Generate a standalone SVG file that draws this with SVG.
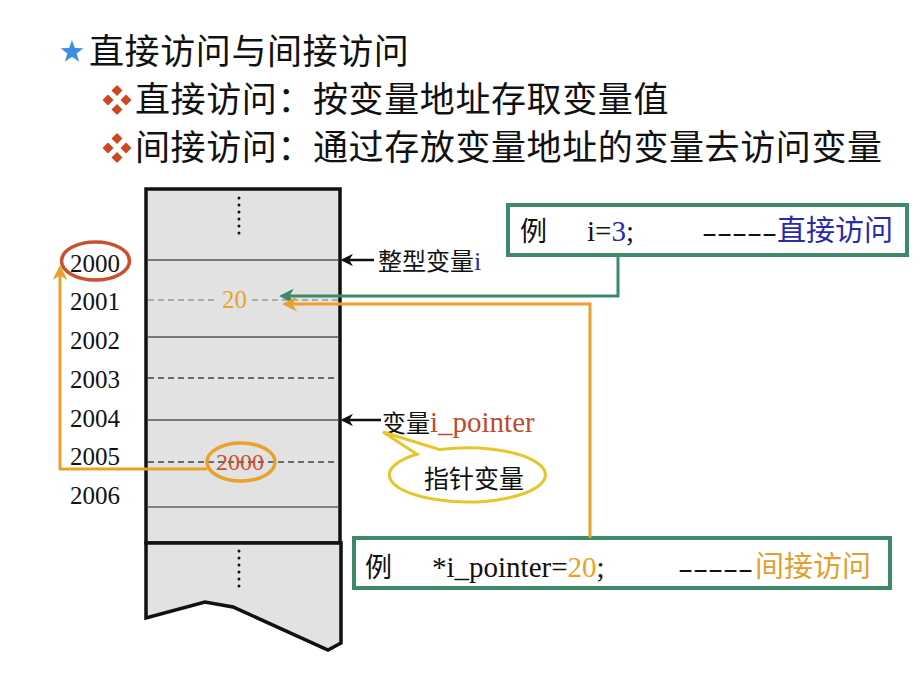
<svg xmlns="http://www.w3.org/2000/svg" width="920" height="690" viewBox="0 0 920 690">
<defs>
<style>
.cjk{font-family:"Noto Sans CJK SC","Noto Sans",sans-serif;}
.ser{font-family:"Liberation Serif","Noto Sans CJK SC",serif;}
.head{font-size:35px;fill:#111;letter-spacing:0.6px;}
.addr{font-size:25px;fill:#111;}
.solid{stroke:#555;stroke-width:1.5;}
.dash{stroke:#444;stroke-width:1.3;stroke-dasharray:6 4;}
.dot{stroke:#111;stroke-width:3;stroke-linecap:round;stroke-dasharray:0 7;}
.box{fill:#fff;stroke:#3e8a68;stroke-width:4;}
.grn{fill:none;stroke:#3e8a68;stroke-width:3;}
.org{fill:none;stroke:#e8a22a;stroke-width:3;}
.blk{fill:none;stroke:#111;stroke-width:2.5;}
.dia{fill:#d0461e;}
</style>
<marker id="mg" viewBox="0 0 10 10" refX="8" refY="5" markerWidth="5" markerHeight="5" orient="auto"><path d="M10,5 L0,0 L3,5 L0,10 Z" fill="#3e8a68"/></marker>
<marker id="mo" viewBox="0 0 10 10" refX="8" refY="5" markerWidth="5" markerHeight="5" orient="auto"><path d="M10,5 L0,0 L3,5 L0,10 Z" fill="#e8a22a"/></marker>
<marker id="mb" viewBox="0 0 10 10" refX="8" refY="5" markerWidth="5" markerHeight="5" orient="auto"><path d="M10,5 L0,0 L3,5 L0,10 Z" fill="#111"/></marker>
</defs>
<rect width="920" height="690" fill="#fff"/>

<g id="heading">
<polygon points="72,40 74.8,48.1 83.4,48.3 76.6,53.5 79.1,61.7 72,56.8 64.9,61.7 67.4,53.5 60.6,48.3 69.2,48.1" fill="#3b8ee8"/>
<text class="cjk head" x="89" y="64">直接访问与间接访问</text>
<g class="dia">
<polygon points="117,85 122.5,90.5 117,96 111.5,90.5"/>
<polygon points="108,94.5 113.5,100 108,105.5 102.5,100"/>
<polygon points="126,94.5 131.5,100 126,105.5 120.5,100"/>
<polygon points="117,104 122.5,109.5 117,115 111.5,109.5"/>
</g>
<text class="cjk head" x="135" y="112">直接访问：按变量地址存取变量值</text>
<g class="dia">
<polygon points="117,133 122.5,138.5 117,144 111.5,138.5"/>
<polygon points="108,142.5 113.5,148 108,153.5 102.5,148"/>
<polygon points="126,142.5 131.5,148 126,153.5 120.5,148"/>
<polygon points="117,152 122.5,157.5 117,163 111.5,157.5"/>
</g>
<text class="cjk head" x="135" y="160">间接访问：通过存放变量地址的变量去访问变量</text>
</g>

<g id="memory">
<rect x="146" y="189" width="194" height="354" fill="#e2e2e2" stroke="#111" stroke-width="3.5"/>
<polygon points="146,543 146,618 205,602 233,607 328,650 341,643 341,543" fill="#e2e2e2" stroke="#111" stroke-width="3.5"/>
<line class="dot" x1="239" y1="198" x2="239" y2="238"/>
<line class="dot" x1="239" y1="551" x2="239" y2="590"/>
<line class="solid" x1="148" y1="260" x2="338" y2="260"/>
<line x1="148" y1="300" x2="214" y2="300" stroke="#999" stroke-width="1.3" stroke-dasharray="6 4"/>
<line x1="252" y1="300" x2="338" y2="300" stroke="#999" stroke-width="1.3" stroke-dasharray="6 4"/>
<line class="solid" x1="148" y1="337" x2="338" y2="337"/>
<line class="dash" x1="148" y1="378" x2="338" y2="378"/>
<line class="solid" x1="148" y1="420" x2="338" y2="420"/>
<line class="dash" x1="148" y1="462" x2="338" y2="462"/>
<line x1="148" y1="507" x2="338" y2="507" stroke="#222" stroke-width="1.2"/>
<text class="ser" x="222" y="308" font-size="25" fill="#e8a22a">20</text>
<ellipse cx="241" cy="462" rx="34" ry="19" fill="none" stroke="#e8a22a" stroke-width="3.5"/>
<text class="ser" x="216" y="470" font-size="24" fill="#c8502e">2000</text>
</g>

<g id="addresses" class="ser addr">
<text x="70" y="272">2000</text>
<text x="70" y="310">2001</text>
<text x="70" y="349">2002</text>
<text x="70" y="388">2003</text>
<text x="70" y="427">2004</text>
<text x="70" y="465">2005</text>
<text x="70" y="504">2006</text>
</g>
<ellipse id="addr-mark" cx="95.5" cy="261" rx="34" ry="19" fill="none" stroke="#c8502e" stroke-width="3.5"/>

<g id="label-i">
<text x="378" y="270" font-size="24"><tspan class="cjk" fill="#111">整型变量</tspan><tspan class="ser" fill="#2a2aa8" font-size="26">i</tspan></text>
</g>
<g id="label-pointer">
<text x="382" y="432" font-size="24"><tspan class="cjk" fill="#111">变量</tspan><tspan class="ser" fill="#c04a30" font-size="29">i_pointer</tspan></text>
</g>
<g id="callout">
<path d="M440,449.6 A78,27 0 1 1 416.9,454.3 L383,432 Z" fill="#fff" stroke="#e6c62a" stroke-width="3"/>
<text class="cjk" x="474" y="488" font-size="25" fill="#111" text-anchor="middle">指针变量</text>
</g>

<g id="box-direct">
<rect class="box" x="508" y="205" width="399" height="50"/>
<text class="cjk" x="520" y="241" font-size="27" fill="#111">例</text>
<text class="ser" x="587" y="241" font-size="29" fill="#111">i=<tspan fill="#2a2aa8">3</tspan>;</text>
<text class="ser" x="702" y="241" font-size="28" fill="#111" textLength="75" lengthAdjust="spacingAndGlyphs">-----</text>
<text class="cjk" x="777" y="241" font-size="29" fill="#2a2aa8">直接访问</text>
</g>

<g id="box-indirect">
<rect class="box" x="354" y="538" width="536" height="50"/>
<text class="cjk" x="365" y="577" font-size="27" fill="#111">例</text>
<text class="ser" x="432" y="577" font-size="29" fill="#111">*i_pointer=<tspan fill="#e8a22a">20</tspan>;</text>
<text class="ser" x="678" y="577" font-size="28" fill="#111" textLength="75" lengthAdjust="spacingAndGlyphs">-----</text>
<text class="cjk" x="755" y="577" font-size="29" fill="#e0a030">间接访问</text>
</g>

<g id="connectors">
<path class="blk" d="M374,260 L343,260" marker-end="url(#mb)"/>
<path class="blk" d="M381,420 L343,420" marker-end="url(#mb)"/>
<path class="grn" d="M618,255 L618,296 L282,296" marker-end="url(#mg)"/>
<path class="org" d="M590,538 L590,304 L285,304" marker-end="url(#mo)"/>
<path class="org" d="M207,469 L60,469 L60,268" marker-end="url(#mo)"/>
</g>
</svg>
